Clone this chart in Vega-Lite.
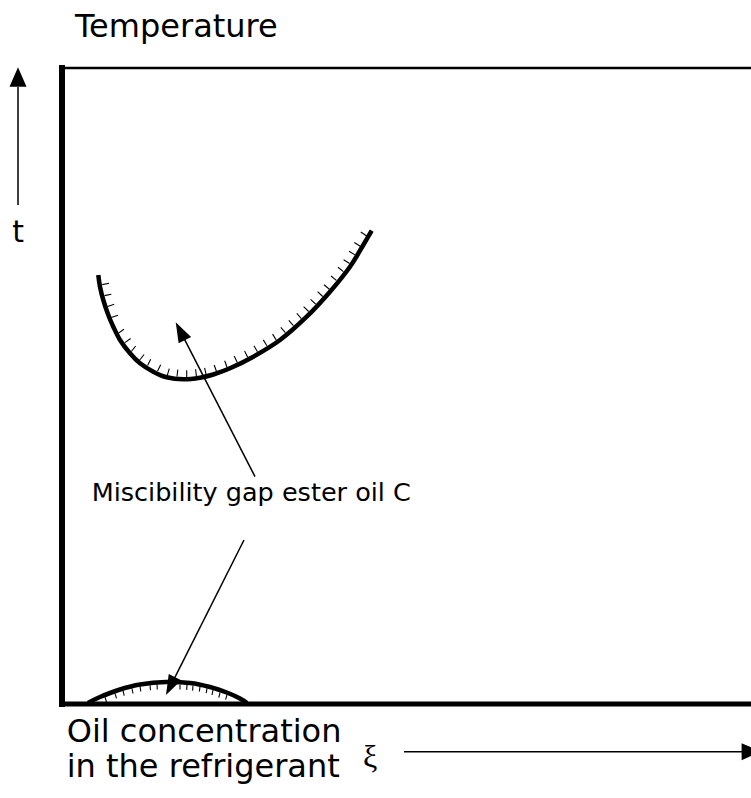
{
  "$schema": "https://vega.github.io/schema/vega-lite/v6.json",
  "width": 751,
  "height": 798,
  "autosize": {"type": "none"},
  "padding": 0,
  "background": "white",
  "view": {"stroke": null},
  "datasets": {
    "frameLeft": [{"x": 0, "y": 0, "x2": 0, "y2": 63.6}],
    "frameBottom": [{"x": 0, "y": 0, "x2": 69.5, "y2": 0}],
    "frameTop": [{"x": 0, "y": 63.6, "x2": 69.5, "y2": 63.6}],
    "curves": [
      {"curve": "upper", "xi": 3.63, "t": 42.9},
      {"curve": "upper", "xi": 3.8, "t": 41.73},
      {"curve": "upper", "xi": 4.13, "t": 40.4},
      {"curve": "upper", "xi": 4.63, "t": 38.9},
      {"curve": "upper", "xi": 5.13, "t": 37.73},
      {"curve": "upper", "xi": 5.8, "t": 36.4},
      {"curve": "upper", "xi": 6.8, "t": 35.07},
      {"curve": "upper", "xi": 7.8, "t": 34.07},
      {"curve": "upper", "xi": 9.13, "t": 33.23},
      {"curve": "upper", "xi": 10.47, "t": 32.67},
      {"curve": "upper", "xi": 12.13, "t": 32.47},
      {"curve": "upper", "xi": 13.8, "t": 32.63},
      {"curve": "upper", "xi": 15.13, "t": 32.95},
      {"curve": "upper", "xi": 16.8, "t": 33.57},
      {"curve": "upper", "xi": 19.13, "t": 34.73},
      {"curve": "upper", "xi": 21.8, "t": 36.4},
      {"curve": "upper", "xi": 24.47, "t": 38.73},
      {"curve": "upper", "xi": 26.8, "t": 41.23},
      {"curve": "upper", "xi": 28.8, "t": 43.73},
      {"curve": "upper", "xi": 30.13, "t": 45.9},
      {"curve": "upper", "xi": 30.97, "t": 47.33},
      {"curve": "lower", "xi": 2.6, "t": 0.1},
      {"curve": "lower", "xi": 3.8, "t": 0.7},
      {"curve": "lower", "xi": 5.8, "t": 1.45},
      {"curve": "lower", "xi": 7.8, "t": 1.95},
      {"curve": "lower", "xi": 10.4, "t": 2.2},
      {"curve": "lower", "xi": 12.8, "t": 2.1},
      {"curve": "lower", "xi": 14.8, "t": 1.7},
      {"curve": "lower", "xi": 16.6, "t": 1.1},
      {"curve": "lower", "xi": 17.8, "t": 0.55},
      {"curve": "lower", "xi": 18.5, "t": 0.1}
    ],
    "hatch": [
      {"x": 4.03, "y": 41.94, "x2": 4.71, "y2": 42.08},
      {"x": 4.25, "y": 40.84, "x2": 4.93, "y2": 40.98},
      {"x": 4.55, "y": 39.76, "x2": 5.22, "y2": 39.98},
      {"x": 4.92, "y": 38.66, "x2": 5.59, "y2": 38.88},
      {"x": 5.62, "y": 37.06, "x2": 6.19, "y2": 37.47},
      {"x": 6.29, "y": 36.14, "x2": 6.86, "y2": 36.55},
      {"x": 6.93, "y": 35.25, "x2": 7.37, "y2": 35.8},
      {"x": 7.77, "y": 34.4, "x2": 8.21, "y2": 34.95},
      {"x": 8.56, "y": 33.85, "x2": 8.87, "y2": 34.48},
      {"x": 9.56, "y": 33.29, "x2": 9.87, "y2": 33.92},
      {"x": 10.53, "y": 32.87, "x2": 10.73, "y2": 33.54},
      {"x": 11.5, "y": 32.75, "x2": 11.58, "y2": 33.44},
      {"x": 12.47, "y": 32.67, "x2": 12.47, "y2": 33.37},
      {"x": 13.44, "y": 32.78, "x2": 13.36, "y2": 33.47},
      {"x": 14.42, "y": 32.92, "x2": 14.26, "y2": 33.61},
      {"x": 15.45, "y": 33.25, "x2": 15.22, "y2": 33.9},
      {"x": 16.5, "y": 33.68, "x2": 16.27, "y2": 34.33},
      {"x": 17.53, "y": 34.16, "x2": 17.22, "y2": 34.79},
      {"x": 18.57, "y": 34.68, "x2": 18.26, "y2": 35.31},
      {"x": 19.55, "y": 35.23, "x2": 19.19, "y2": 35.82},
      {"x": 20.49, "y": 35.82, "x2": 20.13, "y2": 36.41},
      {"x": 21.42, "y": 36.4, "x2": 21.06, "y2": 36.99},
      {"x": 22.34, "y": 37.13, "x2": 21.88, "y2": 37.66},
      {"x": 23.14, "y": 37.83, "x2": 22.68, "y2": 38.36},
      {"x": 23.94, "y": 38.53, "x2": 23.48, "y2": 39.06},
      {"x": 24.67, "y": 39.25, "x2": 24.16, "y2": 39.73},
      {"x": 25.37, "y": 39.99, "x2": 24.86, "y2": 40.47},
      {"x": 26.07, "y": 40.75, "x2": 25.56, "y2": 41.23},
      {"x": 26.74, "y": 41.48, "x2": 26.2, "y2": 41.92},
      {"x": 27.44, "y": 42.36, "x2": 26.9, "y2": 42.8},
      {"x": 28.14, "y": 43.24, "x2": 27.6, "y2": 43.68},
      {"x": 28.76, "y": 44.05, "x2": 28.16, "y2": 44.42},
      {"x": 29.3, "y": 44.91, "x2": 28.7, "y2": 45.28},
      {"x": 29.83, "y": 45.78, "x2": 29.23, "y2": 46.15},
      {"x": 30.46, "y": 46.8, "x2": 29.88, "y2": 47.2},
      {"x": 4.3, "y": 0.7, "x2": 4.45, "y2": 0.2},
      {"x": 5.3, "y": 1.06, "x2": 5.45, "y2": 0.56},
      {"x": 6.1, "y": 1.33, "x2": 6.22, "y2": 0.83},
      {"x": 7.0, "y": 1.55, "x2": 7.1, "y2": 1.05},
      {"x": 7.8, "y": 1.75, "x2": 7.88, "y2": 1.25},
      {"x": 8.8, "y": 1.87, "x2": 8.85, "y2": 1.37},
      {"x": 9.5, "y": 1.95, "x2": 9.53, "y2": 1.45},
      {"x": 11.8, "y": 1.94, "x2": 11.8, "y2": 1.44},
      {"x": 12.5, "y": 1.91, "x2": 12.47, "y2": 1.41},
      {"x": 13.1, "y": 1.84, "x2": 13.06, "y2": 1.34},
      {"x": 13.8, "y": 1.75, "x2": 13.74, "y2": 1.25},
      {"x": 14.5, "y": 1.58, "x2": 14.42, "y2": 1.08},
      {"x": 15.1, "y": 1.4, "x2": 15.0, "y2": 0.9},
      {"x": 15.8, "y": 1.14, "x2": 15.68, "y2": 0.64},
      {"x": 16.5, "y": 0.93, "x2": 16.36, "y2": 0.43}
    ],
    "shafts": [
      {"x": -4.4, "y": 49.9, "x2": -4.4, "y2": 61.7},
      {"x": 34.2, "y": -4.77, "x2": 68.0, "y2": -4.77},
      {"x": 19.3, "y": 22.73, "x2": 11.83, "y2": 37.28},
      {"x": 18.2, "y": 16.4, "x2": 10.85, "y2": 1.79}
    ],
    "axisHeads": [
      {"x": -4.4, "y": 62.7, "dir": 0},
      {"x": 68.93, "y": -4.77, "dir": 90}
    ],
    "noteHeads": [
      {"x": 11.83, "y": 37.28, "dir": 332.8},
      {"x": 10.85, "y": 1.79, "dir": 206.7}
    ],
    "titleText": [{"x": 1.3, "y": 66.67, "label": "Temperature"}],
    "tText": [{"x": -4.4, "y": 46.23, "label": "t"}],
    "noteText": [{"x": 2.97, "y": 20.3, "label": "Miscibility gap ester oil C"}],
    "xText": [
      {"x": 0.47, "y": -3.8, "label": "Oil concentration"},
      {"x": 0.47, "y": -7.3, "label": "in the refrigerant"}
    ],
    "xiText": [{"x": 30.8, "y": -5.3, "label": "ξ"}]
  },
  "layer": [
    {
      "data": {"name": "frameLeft"},
      "mark": {"type": "rule", "color": "black", "strokeWidth": 6, "strokeCap": "square"},
      "encoding": {
        "x": {"field": "x", "type": "quantitative", "scale": {"domain": [-6.2, 68.9], "nice": false, "zero": false}, "axis": null},
        "y": {"field": "y", "type": "quantitative", "scale": {"domain": [-9.4, 70.4], "nice": false, "zero": false}, "axis": null},
        "x2": {"field": "x2"},
        "y2": {"field": "y2"}
      }
    },
    {
      "data": {"name": "frameBottom"},
      "mark": {"type": "rule", "color": "black", "strokeWidth": 5, "strokeCap": "square"},
      "encoding": {
        "x": {"field": "x", "type": "quantitative"},
        "y": {"field": "y", "type": "quantitative"},
        "x2": {"field": "x2"},
        "y2": {"field": "y2"}
      }
    },
    {
      "data": {"name": "frameTop"},
      "mark": {"type": "rule", "color": "black", "strokeWidth": 2.5},
      "encoding": {
        "x": {"field": "x", "type": "quantitative"},
        "y": {"field": "y", "type": "quantitative"},
        "x2": {"field": "x2"},
        "y2": {"field": "y2"}
      }
    },
    {
      "data": {"name": "hatch"},
      "mark": {"type": "rule", "color": "black", "strokeWidth": 1.1},
      "encoding": {
        "x": {"field": "x", "type": "quantitative"},
        "y": {"field": "y", "type": "quantitative"},
        "x2": {"field": "x2"},
        "y2": {"field": "y2"}
      }
    },
    {
      "data": {"name": "curves"},
      "mark": {"type": "line", "color": "black", "strokeWidth": 4.5, "interpolate": "cardinal", "strokeCap": "butt"},
      "encoding": {
        "x": {"field": "xi", "type": "quantitative"},
        "y": {"field": "t", "type": "quantitative"},
        "detail": {"field": "curve"}
      }
    },
    {
      "data": {"name": "shafts"},
      "mark": {"type": "rule", "color": "black", "strokeWidth": 1.5},
      "encoding": {
        "x": {"field": "x", "type": "quantitative"},
        "y": {"field": "y", "type": "quantitative"},
        "x2": {"field": "x2"},
        "y2": {"field": "y2"}
      }
    },
    {
      "data": {"name": "axisHeads"},
      "mark": {"type": "point", "filled": true, "color": "black", "opacity": 1, "size": 400, "shape": "M0,-0.97L0.85,0.97L-0.85,0.97Z", "strokeWidth": 0},
      "encoding": {
        "x": {"field": "x", "type": "quantitative"},
        "y": {"field": "y", "type": "quantitative"},
        "angle": {"field": "dir", "type": "quantitative", "scale": null}
      }
    },
    {
      "data": {"name": "noteHeads"},
      "mark": {"type": "point", "filled": true, "color": "black", "opacity": 1, "size": 400, "shape": "M0,-1L0.7,1L-0.7,1Z", "strokeWidth": 0},
      "encoding": {
        "x": {"field": "x", "type": "quantitative"},
        "y": {"field": "y", "type": "quantitative"},
        "angle": {"field": "dir", "type": "quantitative", "scale": null}
      }
    },
    {
      "data": {"name": "titleText"},
      "mark": {"type": "text", "font": "DejaVu Sans", "fontSize": 32, "align": "left", "baseline": "alphabetic", "color": "black"},
      "encoding": {
        "x": {"field": "x", "type": "quantitative"},
        "y": {"field": "y", "type": "quantitative"},
        "text": {"field": "label"}
      }
    },
    {
      "data": {"name": "tText"},
      "mark": {"type": "text", "font": "DejaVu Sans", "fontSize": 30, "align": "center", "baseline": "alphabetic", "color": "black"},
      "encoding": {
        "x": {"field": "x", "type": "quantitative"},
        "y": {"field": "y", "type": "quantitative"},
        "text": {"field": "label"}
      }
    },
    {
      "data": {"name": "noteText"},
      "mark": {"type": "text", "font": "DejaVu Sans", "fontSize": 25.5, "align": "left", "baseline": "alphabetic", "color": "black"},
      "encoding": {
        "x": {"field": "x", "type": "quantitative"},
        "y": {"field": "y", "type": "quantitative"},
        "text": {"field": "label"}
      }
    },
    {
      "data": {"name": "xText"},
      "mark": {"type": "text", "font": "DejaVu Sans", "fontSize": 32, "align": "left", "baseline": "alphabetic", "color": "black"},
      "encoding": {
        "x": {"field": "x", "type": "quantitative"},
        "y": {"field": "y", "type": "quantitative"},
        "text": {"field": "label"}
      }
    },
    {
      "data": {"name": "xiText"},
      "mark": {"type": "text", "font": "Liberation Serif", "fontSize": 32, "align": "center", "baseline": "middle", "color": "black"},
      "encoding": {
        "x": {"field": "x", "type": "quantitative"},
        "y": {"field": "y", "type": "quantitative"},
        "text": {"field": "label"}
      }
    }
  ]
}
